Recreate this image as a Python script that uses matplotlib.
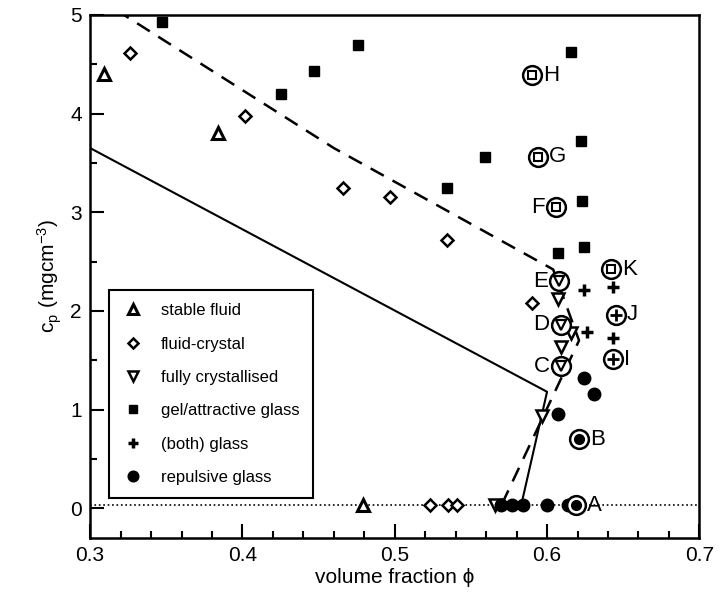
import matplotlib
matplotlib.use('Agg')
import matplotlib.pyplot as plt
from matplotlib.lines import Line2D
from matplotlib.ticker import MultipleLocator

plt.rcParams['font.family'] = ['Liberation Sans', 'DejaVu Sans']
plt.rcParams['mathtext.default'] = 'regular'

# data
stable_x = [0.309, 0.384, 0.479]
stable_y = [4.40, 3.80, 0.03]

crystal_x = [0.326, 0.402, 0.466, 0.497, 0.534, 0.590, 0.523, 0.535, 0.541]
crystal_y = [4.61, 3.97, 3.25, 3.15, 2.72, 2.08, 0.03, 0.03, 0.03]

full_x = [0.566, 0.607, 0.616, 0.609, 0.597]
full_y = [0.03, 2.12, 1.78, 1.63, 0.93]

gel_x = [0.347, 0.425, 0.447, 0.476, 0.534, 0.559, 0.607, 0.616, 0.622, 0.623, 0.624]
gel_y = [4.93, 4.20, 4.43, 4.69, 3.25, 3.56, 2.59, 4.62, 3.72, 3.11, 2.65]

both_x = [0.624, 0.643, 0.626, 0.643]
both_y = [2.21, 2.24, 1.79, 1.73]

rep_x = [0.607, 0.624, 0.631, 0.570, 0.577, 0.584, 0.600, 0.614]
rep_y = [0.95, 1.32, 1.16, 0.03, 0.03, 0.03, 0.03, 0.03]

# labelled samples (circled)
state_names = ['A', 'B', 'C', 'D', 'E', 'F', 'G', 'H', 'I', 'J', 'K']
state_x = [0.619, 0.621, 0.609, 0.609, 0.608, 0.606, 0.594, 0.590, 0.643, 0.645, 0.642]
state_y = [0.03, 0.70, 1.44, 1.86, 2.30, 3.05, 3.56, 4.39, 1.51, 1.96, 2.42]
state_kind = ['rep', 'rep', 'full', 'full', 'full', 'gel', 'gel', 'gel', 'both', 'both', 'gel']
state_side = ['r', 'r', 'l', 'l', 'l', 'l', 'r', 'r', 'r', 'r', 'r']

# boundary lines
dash_x = [0.317, 0.460, 0.604, 0.621, 0.570]
dash_y = [5.05, 3.65, 2.42, 1.70, 0.03]
solid_x = [0.300, 0.600, 0.583]
solid_y = [3.65, 1.18, 0.03]

fig = plt.figure(figsize=(7.21, 5.93), dpi=100)
ax = fig.add_axes([0.125, 0.093, 0.845, 0.882])

ax.plot([0.3, 0.7], [0.03, 0.03], ls=':', color='k', lw=1.2, zorder=1)
ax.plot(dash_x, dash_y, ls=(0, (6, 4)), color='k', lw=1.8, zorder=2)
ax.plot(solid_x, solid_y, ls='-', color='k', lw=1.5, zorder=2)

styles = {
    'stable': dict(marker='^', ms=9, mfc='white', mec='k', mew=2.2),
    'crystal': dict(marker='D', ms=6.5, mfc='white', mec='k', mew=1.8),
    'full': dict(marker='v', ms=9, mfc='white', mec='k', mew=1.8),
    'gel': dict(marker='s', ms=7, mfc='k', mec='k', mew=1),
    'both': dict(marker='+', ms=9, mec='k', mew=2.5),
    'rep': dict(marker='o', ms=9, mfc='k', mec='k', mew=1),
}

ax.plot(stable_x, stable_y, ls='none', zorder=4, **styles['stable'])
ax.plot(crystal_x, crystal_y, ls='none', zorder=4, **styles['crystal'])
ax.plot(full_x, full_y, ls='none', zorder=4, **styles['full'])
ax.plot(gel_x, gel_y, ls='none', zorder=4, **styles['gel'])
ax.plot(both_x, both_y, ls='none', zorder=4, **styles['both'])
ax.plot(rep_x, rep_y, ls='none', zorder=4, **styles['rep'])

inner = {
    'rep': dict(marker='o', ms=7, mfc='k', mec='k'),
    'full': dict(marker='v', ms=7.5, mfc='white', mec='k', mew=1.6),
    'gel': dict(marker='s', ms=5.5, mfc='white', mec='k', mew=1.5),
    'both': dict(marker='+', ms=9, mec='k', mew=2),
}

for name, x, y, kind, side in zip(state_names, state_x, state_y, state_kind, state_side):
    ax.plot([x], [y], ls='none', marker='o', ms=13.5, mfc='white', mec='k', mew=1.8, zorder=5)
    ax.plot([x], [y], ls='none', zorder=6, **inner[kind])
    if side == 'r':
        ax.annotate(name, (x, y), xytext=(8, 0), textcoords='offset points',
                    ha='left', va='center', fontsize=16)
    else:
        ax.annotate(name, (x, y), xytext=(-8, 0), textcoords='offset points',
                    ha='right', va='center', fontsize=16)

ax.set_xlim(0.3, 0.7)
ax.set_ylim(-0.3, 5)
ax.xaxis.set_major_locator(MultipleLocator(0.1))
ax.xaxis.set_minor_locator(MultipleLocator(0.02))
ax.yaxis.set_major_locator(MultipleLocator(1))
ax.yaxis.set_minor_locator(MultipleLocator(0.5))
ax.tick_params(which='both', direction='in', top=False, right=False, labelsize=15, width=1.5)
ax.tick_params(which='major', length=10, pad=6)
ax.tick_params(which='minor', length=5)
for s in ax.spines.values():
    s.set_linewidth(1.8)

ax.set_xlabel('volume fraction \u03d5', fontsize=15, labelpad=2)
ax.set_ylabel('c$_p$ (mgcm$^{-3}$)', fontsize=15, labelpad=4)

handles = [
    Line2D([], [], ls='none', **styles['stable']),
    Line2D([], [], ls='none', **styles['crystal']),
    Line2D([], [], ls='none', **styles['full']),
    Line2D([], [], ls='none', **styles['gel']),
    Line2D([], [], ls='none', **styles['both']),
    Line2D([], [], ls='none', **styles['rep']),
]
labels = ['stable fluid', 'fluid-crystal', 'fully crystallised',
          'gel/attractive glass', '(both) glass', 'repulsive glass']
leg = ax.legend(handles, labels, loc='upper left', bbox_to_anchor=(0.018, 0.49),
                frameon=True, fancybox=False, fontsize=12, labelspacing=1.1,
                handlelength=1.2, handletextpad=1.1, borderpad=0.8, markerscale=0.85)
leg.get_frame().set_edgecolor('k')
leg.get_frame().set_linewidth(1.5)
leg.get_frame().set_alpha(1)

fig.savefig('out.png', dpi=100)
